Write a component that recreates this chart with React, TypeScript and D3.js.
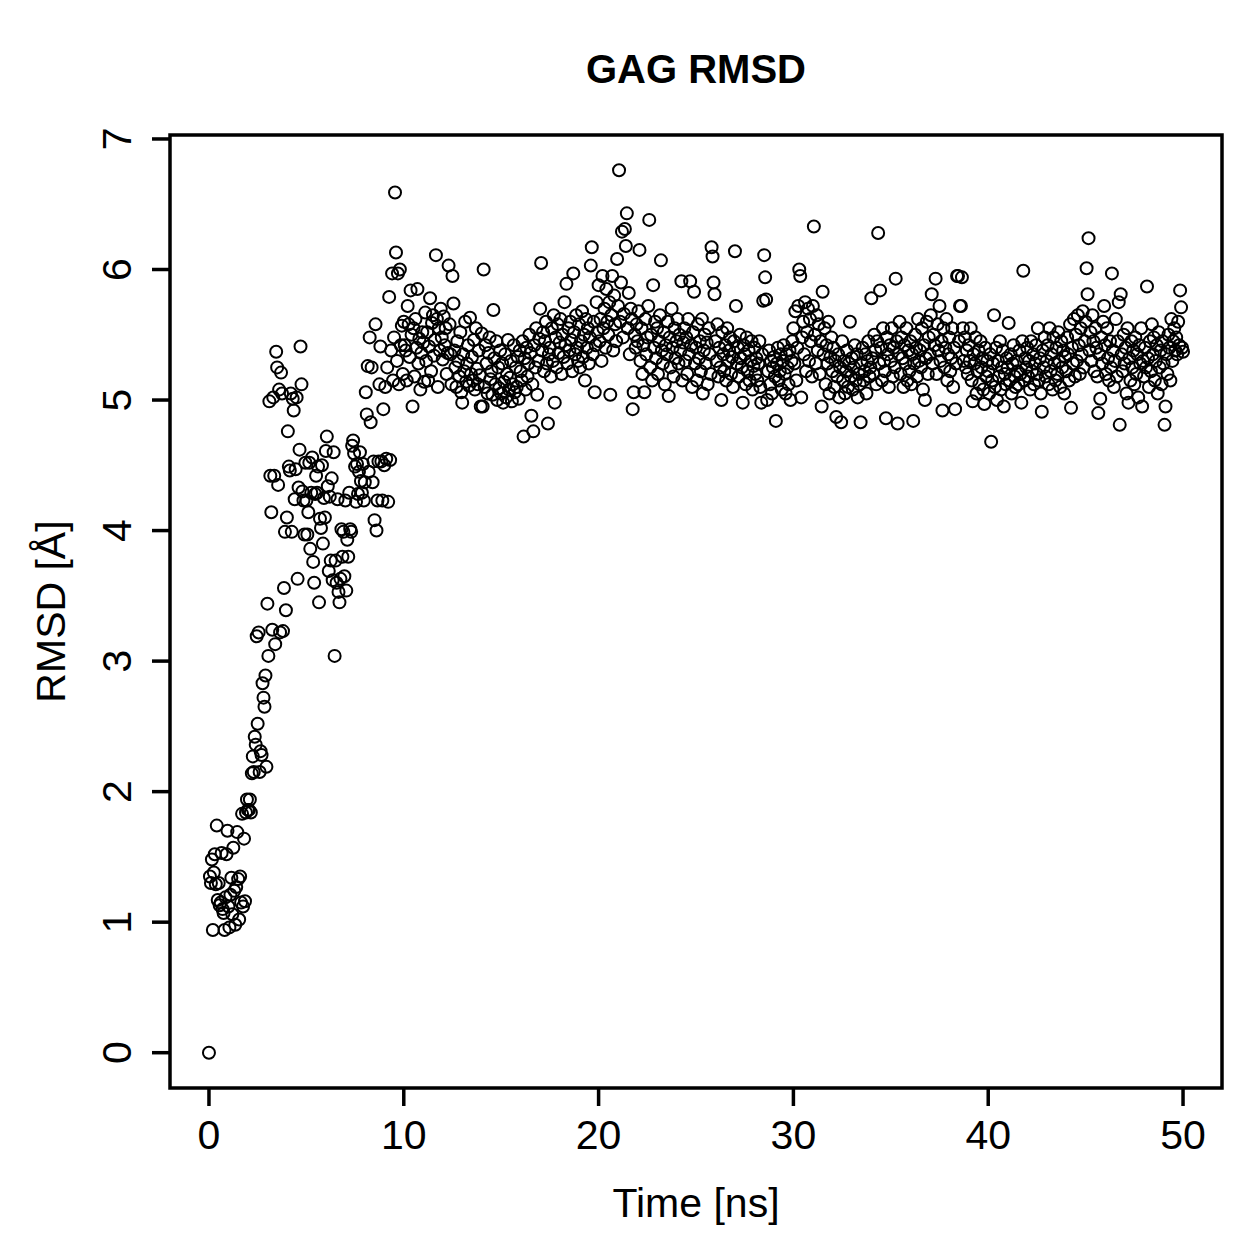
import React from 'react';
import * as d3 from 'd3';

// sampling interval of the trajectory (ns)
const STEP = 0.05;

// RMSD [Å], one array per 5 ns block
const rmsd00 = [
  0.00,
  1.35, 1.30, 1.48, 0.94, 1.38, 1.52, 1.29, 1.74, 1.17, 1.30,
  1.13, 1.15, 1.53, 1.10, 1.07, 0.94, 1.19, 1.52, 1.70, 1.12,
  0.96, 1.21, 1.34, 1.06, 1.57, 1.24, 0.98, 1.27, 1.69, 1.33,
  1.02, 1.35, 1.15, 1.83, 1.12, 1.64, 1.16, 1.84, 1.94, 1.86,
  1.86, 1.94, 1.84, 2.14, 2.27, 2.15, 2.42, 2.36, 3.19, 2.52,
  3.22, 2.15, 2.31, 2.28, 2.83, 2.72, 2.65, 2.89, 2.19, 3.44,
  3.04, 4.99, 4.42, 4.14, 3.24, 5.02, 4.42, 3.13, 5.37, 5.25,
  4.35, 5.08, 3.22, 5.21, 5.05, 3.23, 3.56, 3.99, 3.39, 4.10,
  4.76, 4.49, 4.46, 5.05, 3.99, 5.01, 4.92, 4.24, 4.47, 5.02,
  3.63, 4.33, 4.62, 5.41, 5.12, 4.30, 4.23, 3.97, 4.52,
];
const rmsd05 = [
  4.23, 3.97, 4.14, 4.52, 3.86, 4.29, 4.56, 3.76, 3.60, 4.28,
  4.42, 4.29, 4.49, 3.45, 4.09, 4.02, 4.50, 3.90, 4.25, 4.10,
  4.61, 4.72, 4.34, 3.69, 4.26, 3.77, 4.40, 3.62, 4.60, 3.04,
  3.77, 3.60, 4.24, 3.53, 3.45, 3.63, 4.01, 3.80, 3.99, 3.65,
  4.23, 3.54, 3.93, 3.80, 4.29, 4.01, 3.99, 4.65, 4.69, 4.59,
  4.49, 4.22, 4.51, 4.28, 4.45, 4.60, 4.38, 4.29, 4.51, 4.23,
  4.37, 5.06, 4.89, 5.26, 4.45, 5.48, 4.83, 5.25, 4.37, 4.53,
  4.08, 5.58, 4.00, 4.23, 4.53, 5.12, 5.41, 4.53, 4.23, 4.93,
  4.50, 5.10, 4.55, 5.25, 4.22, 5.79, 4.54, 5.38, 5.97, 5.15,
  5.48, 6.59, 6.13, 5.30, 5.97, 5.12, 6.00, 5.42, 5.57, 5.20,
];
const rmsd10 = [
  5.60, 5.42, 5.38, 5.15, 5.72, 5.58, 5.33, 5.84, 5.50, 4.95,
  5.55, 5.18, 5.62, 5.40, 5.85, 5.28, 5.47, 5.08, 5.36, 5.52,
  5.44, 5.14, 5.67, 5.30, 5.52, 5.15, 5.41, 5.78, 5.22, 5.59,
  5.65, 5.34, 5.46, 6.11, 5.62, 5.10, 5.55, 5.38, 5.70, 5.48,
  5.31, 5.64, 5.42, 5.55, 5.20, 5.36, 6.03, 5.58, 5.35, 5.12,
  5.95, 5.74, 5.38, 5.25, 5.10, 5.45, 5.30, 5.18, 5.52, 5.06,
  4.98, 5.35, 5.22, 5.60, 5.14, 5.28, 5.42, 5.11, 5.63, 5.20,
  5.33, 5.15, 5.46, 5.08, 5.55, 5.24, 5.12, 5.38, 5.19, 4.95,
  5.51, 4.95, 6.00, 5.10, 5.42, 5.28, 5.05, 5.36, 5.48, 5.16,
  5.22, 5.04, 5.69, 5.32, 5.12, 5.45, 5.00, 5.25, 5.09, 5.38,
];
const rmsd15 = [
  5.05, 5.28, 4.98, 5.14, 5.35, 5.02, 5.20, 5.46, 5.08, 5.17,
  5.30, 4.99, 5.12, 5.42, 5.06, 5.25, 5.10, 5.33, 5.01, 5.38,
  5.22, 5.15, 5.45, 4.72, 5.32, 5.08, 5.40, 5.18, 5.28, 5.50,
  5.36, 4.88, 5.12, 4.76, 5.42, 5.25, 5.55, 5.04, 5.30, 5.47,
  5.70, 6.05, 5.38, 5.52, 5.22, 5.45, 5.60, 5.28, 4.82, 5.35,
  5.40, 5.18, 5.55, 5.30, 5.65, 4.98, 5.48, 5.25, 5.58, 5.36,
  5.44, 5.62, 5.20, 5.50, 5.33, 5.75, 5.42, 5.89, 5.28, 5.55,
  5.38, 5.60, 5.46, 5.22, 5.97, 5.52, 5.35, 5.65, 5.40, 5.30,
  5.58, 5.25, 5.45, 5.68, 5.33, 5.50, 5.15, 5.62, 5.40, 5.55,
  5.28, 5.48, 6.03, 6.17, 5.35, 5.60, 5.06, 5.42, 5.75, 5.52,
];
const rmsd20 = [
  5.88, 5.45, 5.62, 5.30, 5.95, 5.55, 5.70, 5.40, 5.85, 5.60,
  5.50, 5.75, 5.04, 5.65, 5.95, 5.38, 5.80, 5.58, 5.45, 6.08,
  5.72, 6.76, 5.60, 5.90, 6.29, 5.48, 5.66, 6.31, 6.18, 6.43,
  5.55, 5.82, 5.35, 5.70, 5.62, 4.93, 5.06, 5.50, 5.40, 5.58,
  5.45, 5.68, 6.15, 5.30, 5.55, 5.20, 5.42, 5.06, 5.62, 5.35,
  5.48, 5.72, 6.38, 5.25, 5.50, 5.15, 5.88, 5.40, 5.60, 5.32,
  5.55, 5.20, 5.45, 5.65, 6.07, 5.38, 5.28, 5.52, 5.12, 5.42,
  5.35, 5.60, 5.03, 5.48, 5.25, 5.70, 5.40, 5.18, 5.55, 5.32,
  5.45, 5.62, 5.28, 5.50, 5.38, 5.91, 5.15, 5.44, 5.55, 5.30,
  5.48, 5.20, 5.62, 5.35, 5.91, 5.42, 5.10, 5.52, 5.83, 5.28,
];
const rmsd25 = [
  5.40, 5.15, 5.58, 5.32, 5.45, 5.22, 5.62, 5.05, 5.38, 5.50,
  5.28, 5.44, 5.12, 5.55, 5.35, 5.20, 6.17, 6.10, 5.90, 5.81,
  5.45, 5.30, 5.58, 5.18, 5.40, 5.25, 5.00, 5.52, 5.35, 5.22,
  5.42, 5.15, 5.55, 5.30, 5.38, 5.48, 5.20, 5.33, 5.10, 5.45,
  6.14, 5.72, 5.28, 5.40, 5.18, 5.50, 5.32, 5.25, 4.98, 5.42,
  5.35, 5.12, 5.48, 5.22, 5.38, 5.15, 5.30, 5.45, 5.08, 5.26,
  5.40, 5.20, 5.32, 5.15, 5.28, 5.45, 5.10, 4.98, 5.35, 5.76,
  6.11, 5.94, 5.77, 5.00, 5.22, 5.38, 5.12, 5.30, 5.05, 5.25,
  5.33, 5.18, 4.84, 5.28, 5.40, 5.15, 5.22, 5.35, 5.08, 5.30,
  5.42, 5.20, 5.05, 5.35, 5.25, 5.12, 5.38, 5.00, 5.30, 5.45,
];
const rmsd30 = [
  5.55, 5.28, 5.68, 5.15, 5.40, 5.72, 6.00, 5.95, 5.02, 5.48,
  5.60, 5.35, 5.75, 5.22, 5.52, 5.70, 5.30, 5.62, 5.45, 5.18,
  5.72, 6.33, 5.50, 5.28, 5.65, 5.38, 5.58, 5.20, 5.45, 4.95,
  5.83, 5.35, 5.55, 5.12, 5.42, 5.28, 5.60, 5.05, 5.33, 5.48,
  5.22, 5.40, 5.10, 5.30, 4.87, 5.18, 5.35, 5.02, 5.25, 4.83,
  5.45, 5.15, 5.30, 5.05, 5.22, 5.38, 5.10, 5.28, 5.60, 5.18,
  5.32, 5.08, 5.25, 5.42, 5.15, 5.35, 5.02, 5.20, 5.12, 4.83,
  5.28, 5.40, 5.15, 5.22, 5.35, 5.05, 5.30, 5.45, 5.18, 5.25,
  5.78, 5.32, 5.20, 5.50, 5.38, 5.12, 5.45, 6.28, 5.28, 5.84,
  5.40, 5.15, 5.55, 5.30, 5.22, 4.86, 5.48, 5.35, 5.10, 5.42,
];
const rmsd35 = [
  5.30, 5.55, 5.18, 5.40, 5.25, 5.93, 5.45, 4.82, 5.35, 5.60,
  5.20, 5.48, 5.32, 5.10, 5.42, 5.28, 5.55, 5.15, 5.38, 5.22,
  5.45, 5.12, 5.35, 4.84, 5.28, 5.50, 5.40, 5.18, 5.62, 5.30,
  5.38, 5.25, 5.55, 5.08, 5.42, 5.00, 5.32, 5.60, 5.20, 5.48,
  5.35, 5.65, 5.81, 5.28, 5.50, 5.42, 5.93, 5.20, 5.58, 5.38,
  5.72, 5.30, 5.45, 4.92, 5.55, 5.25, 5.40, 5.62, 5.15, 5.35,
  5.48, 5.22, 5.32, 5.55, 5.10, 5.40, 4.93, 5.28, 5.95, 5.95,
  5.45, 5.72, 5.72, 5.94, 5.55, 5.30, 5.48, 5.25, 5.38, 5.20,
  5.42, 5.30, 5.55, 5.15, 4.99, 5.35, 5.28, 5.48, 5.05, 5.22,
  5.38, 5.12, 5.45, 5.25, 5.32, 5.08, 4.97, 5.40, 5.18, 5.30,
];
const rmsd40 = [
  5.22, 5.05, 5.35, 4.68, 5.15, 5.28, 5.65, 5.10, 5.40, 5.00,
  5.30, 5.18, 5.45, 5.08, 5.25, 5.38, 4.95, 5.20, 5.12, 5.32,
  5.25, 5.59, 5.15, 5.35, 5.05, 5.28, 5.42, 5.18, 5.10, 5.30,
  5.22, 5.12, 5.38, 5.20, 4.98, 5.45, 5.99, 5.15, 5.32, 5.25,
  5.40, 5.18, 5.30, 5.08, 5.45, 5.22, 5.35, 5.12, 5.28, 5.42,
  5.20, 5.55, 5.15, 5.32, 5.05, 4.91, 5.38, 5.25, 5.48, 5.18,
  5.30, 5.42, 5.12, 5.55, 5.22, 5.35, 5.08, 5.48, 5.28, 5.15,
  5.40, 5.20, 5.52, 5.30, 5.10, 5.45, 5.25, 5.38, 5.05, 5.33,
  5.22, 5.48, 5.35, 5.15, 5.58, 4.94, 5.40, 5.28, 5.62, 5.18,
  5.50, 5.30, 5.65, 5.42, 5.20, 5.55, 5.35, 5.68, 5.25, 5.45,
];
const rmsd45 = [
  5.60, 6.01, 5.81, 6.24, 5.38, 5.52, 5.30, 5.65, 5.45, 5.22,
  5.55, 5.40, 5.18, 4.90, 5.35, 5.01, 5.48, 5.28, 5.60, 5.72,
  5.42, 5.20, 5.55, 5.32, 5.15, 5.45, 5.25, 5.97, 5.38, 5.10,
  5.30, 5.62, 5.18, 5.45, 5.75, 4.81, 5.81, 5.35, 5.22, 5.50,
  5.28, 5.40, 5.05, 5.55, 4.98, 5.32, 5.15, 5.45, 5.25, 5.38,
  5.12, 5.48, 5.20, 5.35, 5.02, 5.42, 5.28, 5.55, 4.95, 5.30,
  5.18, 5.40, 5.25, 5.87, 5.32, 5.10, 5.45, 5.22, 5.58, 5.35,
  5.48, 5.15, 5.30, 5.42, 5.05, 5.52, 5.25, 5.38, 5.12, 5.45,
  5.28, 4.81, 4.95, 5.35, 5.20, 5.50, 5.40, 5.15, 5.62, 5.30,
  5.45, 5.55, 5.38, 5.48, 5.35, 5.60, 5.42, 5.84, 5.71, 5.40,
  5.37,
];

const xTicks = [0, 10, 20, 30, 40, 50];
const yTicks = [0, 1, 2, 3, 4, 5, 6, 7];

const FONT = '"Liberation Sans", Arial, Helvetica, sans-serif';

const W = 1259;
const H = 1259;
const box = { left: 170, right: 1222, top: 135, bottom: 1088 };

const App: React.FC = () => {
  const rmsd = [
    ...rmsd00, ...rmsd05, ...rmsd10, ...rmsd15, ...rmsd20,
    ...rmsd25, ...rmsd30, ...rmsd35, ...rmsd40, ...rmsd45,
  ];
  const points = rmsd.map((v, i) => ({ t: +(i * STEP).toFixed(2), v }));

  // R-style 4% axis extension
  const [t0, t1] = d3.extent(points, d => d.t) as [number, number];
  const [v0, v1] = d3.extent(points, d => d.v) as [number, number];
  const tp = (t1 - t0) * 0.04;
  const vp = (v1 - v0) * 0.04;

  const x = d3.scaleLinear().domain([t0 - tp, t1 + tp]).range([box.left, box.right]);
  const y = d3.scaleLinear().domain([v0 - vp, v1 + vp]).range([box.bottom, box.top]);

  const tick = 18;
  const lw = 3.5;
  const fs = 41;

  return (
    <svg
      width={W}
      height={H}
      style={{ position: 'absolute', left: 0, top: 0, background: '#fff' }}
      fontFamily={FONT}
    >
      <rect x={0} y={0} width={W} height={H} fill="#fff" />
      <text
        x={(box.left + box.right) / 2}
        y={83}
        textAnchor="middle"
        fontSize={40}
        fontWeight="bold"
      >
        GAG RMSD
      </text>

      {/* x axis */}
      {xTicks.map(t => (
        <g key={`xt${t}`}>
          <line x1={x(t)} x2={x(t)} y1={box.bottom} y2={box.bottom + tick} stroke="#000" strokeWidth={lw} />
          <text x={x(t)} y={1149} textAnchor="middle" fontSize={fs}>{t}</text>
        </g>
      ))}
      <text x={(box.left + box.right) / 2} y={1217} textAnchor="middle" fontSize={fs}>Time [ns]</text>

      {/* y axis */}
      {yTicks.map(v => (
        <g key={`yt${v}`}>
          <line x1={box.left - tick} x2={box.left} y1={y(v)} y2={y(v)} stroke="#000" strokeWidth={lw} />
          <text transform={`translate(131,${y(v)}) rotate(-90)`} textAnchor="middle" fontSize={fs}>{v}</text>
        </g>
      ))}
      <text transform={`translate(65,${(box.top + box.bottom) / 2}) rotate(-90)`} textAnchor="middle" fontSize={fs}>
        RMSD [Å]
      </text>

      <rect
        x={box.left}
        y={box.top}
        width={box.right - box.left}
        height={box.bottom - box.top}
        fill="none"
        stroke="#000"
        strokeWidth={lw}
      />

      <g fill="none" stroke="#000" strokeWidth={2}>
        {points.map((d, i) => (
          <circle key={i} cx={x(d.t)} cy={y(d.v)} r={6} />
        ))}
      </g>
    </svg>
  );
};

export default App;
